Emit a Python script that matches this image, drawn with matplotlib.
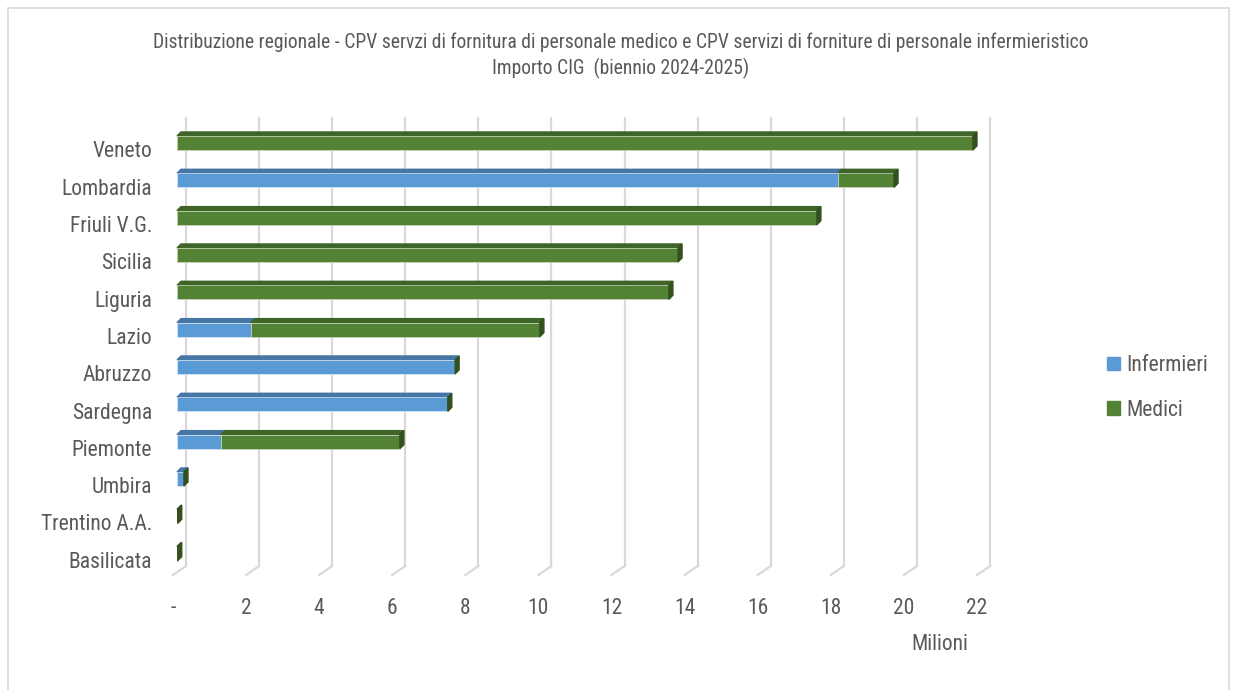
import numpy as np
import matplotlib.pyplot as plt
from matplotlib.patches import Polygon, Patch, Rectangle

plt.rcParams['font.family'] = ['Roboto Condensed', 'Liberation Sans Narrow', 'Roboto', 'DejaVu Sans']

# Regional amounts (millions of euro), top to bottom
regioni = ['Veneto', 'Lombardia', 'Friuli V.G.', 'Sicilia', 'Liguria', 'Lazio',
           'Abruzzo', 'Sardegna', 'Piemonte', 'Umbira', 'Trentino A.A.', 'Basilicata']
infermieri = [0.0, 18.08, 0.0, 0.0, 0.0, 2.02, 7.61, 7.41, 1.20, 0.19, 0.0, 0.0]
medici = [21.78, 1.54, 17.51, 13.71, 13.46, 7.91, 0.0, 0.0, 4.90, 0.0, 0.02, 0.02]
xticks = [0, 2, 4, 6, 8, 10, 12, 14, 16, 18, 20, 22]
xticklabels = ['-', '2', '4', '6', '8', '10', '12', '14', '16', '18', '20', '22']

blue, blue_top = '#5b9bd5', '#4576a6'
green, green_top, green_side = '#548235', '#3f6428', '#34501f'
grid_c = '#d9d9d9'
text_c = '#595959'

fig = plt.figure(figsize=(12.34, 6.9), dpi=100)
ax = fig.add_axes([186 / 1234, 124 / 690, 804 / 1234, 448 / 690])
ax.set_xlim(0, 22)
ax.set_ylim(11.5, -0.5)
ax.axis('off')

# pixel -> data unit helpers for the pseudo-3D depth
px_x = 22 / 804
px_y = 12 / 448

# back wall gridlines and floor diagonals
for t, lab in zip(xticks, xticklabels):
    ax.plot([t, t], [-0.5, 11.5], color=grid_c, lw=1.6, zorder=0, clip_on=False)
    ax.plot([t, t - 13 * px_x], [11.5, 11.5 + 9 * px_y], color=grid_c, lw=1.6,
            zorder=0, clip_on=False)
    ax.text(t - 13 * px_x, 11.5 + 42 * px_y, lab,
            ha='center', va='center', fontsize=15.5, color=text_c)

y = np.arange(len(regioni))
inf = np.array(infermieri)
med = np.array(medici)
yc = y + 6.3 * px_y
h = 14 * px_y
x0 = -9 * px_x
dx, dy = 4 * px_x, 4 * px_y

ax.barh(yc, inf, left=x0, height=h, color=blue, edgecolor='#dbe8f5', lw=0.5,
        zorder=3, clip_on=False)
ax.barh(yc, med, left=x0 + inf, height=h, color=green, edgecolor='#c9d8bd', lw=0.5,
        zorder=3, clip_on=False)

for i in range(len(regioni)):
    top = yc[i] - h / 2
    # top faces
    for start, w, c in [(x0, inf[i], blue_top), (x0 + inf[i], med[i], green_top)]:
        if w > 0:
            ax.add_patch(Polygon([(start, top), (start + w, top), (start + w + dx, top - dy),
                                  (start + dx, top - dy)], closed=True, color=c,
                                 zorder=2, clip_on=False))
    # right side face
    xe = x0 + inf[i] + med[i]
    ax.add_patch(Polygon([(xe, top), (xe, top + h), (xe + dx, top + h - dy), (xe + dx, top - dy)],
                         closed=True, color=green_side, zorder=4, clip_on=False))
    ax.text(-34 * px_x, y[i] + 15 * px_y, regioni[i], ha='right', va='center',
            fontsize=15.5, color=text_c)

ax.text(22 - 50 * px_x, 11.5 + 79 * px_y, 'Milioni', ha='center', va='center',
        fontsize=15.5, color=text_c)

fig.text(621 / 1234, 1 - 42 / 690,
         'Distribuzione regionale - CPV servzi di fornitura di personale medico e CPV servizi di forniture di personale infermieristico',
         ha='center', va='center', fontsize=14.1, color=text_c)
fig.text(621 / 1234, 1 - 68 / 690, 'Importo CIG  (biennio 2024-2025)',
         ha='center', va='center', fontsize=14.1, color=text_c)

handles = [Patch(color=blue, label='Infermieri'), Patch(color=green, label='Medici')]
fig.legend(handles=handles, loc='center left', bbox_to_anchor=(1088 / 1234, 1 - 388 / 690),
           frameon=False, fontsize=15.5, labelcolor=text_c, handlelength=0.6,
           handleheight=0.6, handletextpad=0.3, labelspacing=1.1)

fig.add_artist(Rectangle((8 / 1234, -0.1), 1221 / 1234, 1.1 - 8 / 690, transform=fig.transFigure,
                         fill=False, edgecolor=grid_c, lw=1.2))

fig.savefig('out.png', dpi=100)
